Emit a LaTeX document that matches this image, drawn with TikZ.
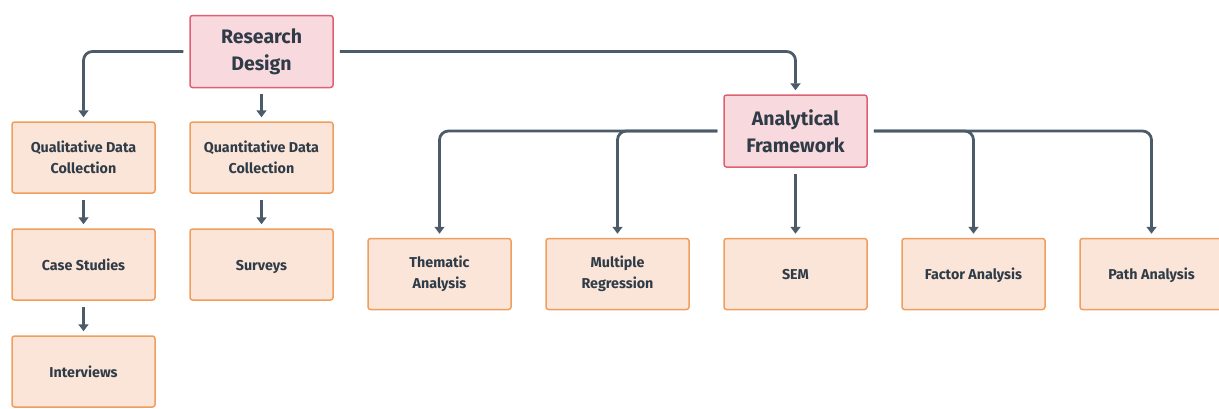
\documentclass[tikz,border=0pt]{standalone}
\usepackage{fontspec}
\setmainfont{Fira Sans}
\usetikzlibrary{arrows.meta,positioning}
\definecolor{pinkfill}{HTML}{F8DADE}
\definecolor{pinkline}{HTML}{DE6173}
\definecolor{orfill}{HTML}{FAE5D8}
\definecolor{orline}{HTML}{EF9E5E}
\definecolor{txt}{HTML}{2F3B47}
\definecolor{conn}{HTML}{4B5B69}
\tikzset{
  x=1pt,y=-1pt,
  mainbox/.style={draw=pinkline,fill=pinkfill,line width=1.5pt,rounded corners=2.5pt,
    minimum width=143pt,minimum height=72pt,inner sep=0pt,align=center,
    text=txt,font=\fontsize{19.5}{27}\selectfont\bfseries},
  leaf/.style={draw=orline,fill=orfill,line width=1.5pt,rounded corners=2.5pt,
    minimum width=143pt,minimum height=71pt,inner sep=0pt,align=center,
    text=txt,font=\fontsize{14.3}{21}\selectfont\bfseries},
  oneline/.style={leaf,text height=14pt,text depth=3pt},
  link/.style={draw=conn,line width=2.8pt,rounded corners=9pt,
    -{Triangle[length=7pt,width=10pt]},shorten <=6pt,shorten >=4pt}
}
\begin{document}
\begin{tikzpicture}
\useasboundingbox (0,0) rectangle (1219,408);
\node[mainbox] (rd) at (261.5,51.5) {Research\\Design};
\node[mainbox] (af) at (795.5,131) {Analytical\\Framework};
\node[leaf] (qual) at (83.5,157.5) {Qualitative Data\\Collection};
\node[leaf] (quan) at (261.5,157.5) {Quantitative Data\\Collection};
\node[oneline] (case) at (83.5,264.5) {Case Studies};
\node[oneline] (surv) at (261.5,264.5) {Surveys};
\node[oneline] (intv) at (83.5,371.5) {Interviews};
\node[leaf] (them) at (439.5,274) {Thematic\\Analysis};
\node[leaf] (mult) at (617.5,274) {Multiple\\Regression};
\node[oneline] (sem) at (795.5,274) {SEM};
\node[oneline] (fact) at (973.5,274) {Factor Analysis};
\node[oneline] (path) at (1151.5,274) {Path Analysis};
\draw[link] (rd.west) -| (qual.north);
\draw[link] (rd.south) -- (quan.north);
\draw[link] (rd.east) -| (af.north);
\draw[link] (qual.south) -- (case.north);
\draw[link] (case.south) -- (intv.north);
\draw[link] (quan.south) -- (surv.north);
\draw[link] (af.west) -| (them.north);
\draw[link] (af.west) -| (mult.north);
\draw[link] (af.south) -- (sem.north);
\draw[link] (af.east) -| (fact.north);
\draw[link] (af.east) -| (path.north);
\end{tikzpicture}
\end{document}
